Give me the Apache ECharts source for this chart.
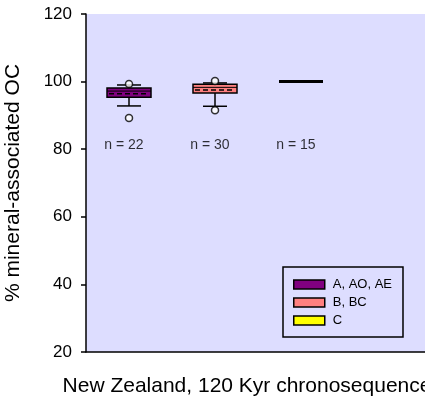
<!DOCTYPE html>
<html>
<head>
<meta charset="utf-8">
<script src="https://cdn.jsdelivr.net/npm/echarts@6/dist/echarts.min.js"></script>
<style>
html,body{margin:0;padding:0;background:#fff;}
#chart{width:425px;height:412px;}
</style>
</head>
<body>
<div id="chart"></div>
<script>
// ---- data ----
const categories = ['A, AO, AE', 'B, BC', 'C'];
const whiskerLow = [92.8, 92.7, 100];
const q1 = [95.4, 96.6, 100];
const median = [97.2, 98.3, 100];
const mean = [96.4, 97.5, 100];
const q3 = [98.1, 99.2, 100];
const whiskerHigh = [99.0, 99.6, 100];
const outlierCat = [0, 0, 1, 1];
const outlierVal = [99.3, 89.2, 100.2, 91.5];
const counts = [22, 30, 15];
const yTicks = [20, 40, 60, 80, 100, 120];

const fillColors = ['#800080', '#FF8080', '#FFFF00'];
const FONT = 'Liberation Sans, Arial, sans-serif';
const N_LABEL_Y = 81.3;

const chart = echarts.init(document.getElementById('chart'), null, {renderer: 'canvas'});

function boxRender(idx) {
  return function (params, api) {
    const c = api.value(0);
    const bw = 44, cw = 24;
    const pLow = api.coord([c, whiskerLow[idx]]);
    const pQ1 = api.coord([c, q1[idx]]);
    const pMed = api.coord([c, median[idx]]);
    const pMean = api.coord([c, mean[idx]]);
    const pQ3 = api.coord([c, q3[idx]]);
    const pHigh = api.coord([c, whiskerHigh[idx]]);
    const x = pQ1[0];
    const ls = {stroke: '#000', lineWidth: 1.5};
    const children = [];
    if (q3[idx] === q1[idx]) {
      children.push({type: 'line', shape: {x1: x - bw / 2, y1: pQ1[1], x2: x + bw / 2, y2: pQ1[1]}, style: {stroke: '#000', lineWidth: 3}});
      return {type: 'group', children: children};
    }
    children.push({type: 'line', shape: {x1: x, y1: pLow[1], x2: x, y2: pQ1[1]}, style: ls});
    children.push({type: 'line', shape: {x1: x, y1: pHigh[1], x2: x, y2: pQ3[1]}, style: ls});
    children.push({type: 'line', shape: {x1: x - cw / 2, y1: pLow[1], x2: x + cw / 2, y2: pLow[1]}, style: ls});
    children.push({type: 'line', shape: {x1: x - cw / 2, y1: pHigh[1], x2: x + cw / 2, y2: pHigh[1]}, style: ls});
    children.push({type: 'rect', shape: {x: x - bw / 2, y: pQ3[1], width: bw, height: pQ1[1] - pQ3[1]},
      style: {fill: fillColors[idx], stroke: '#000', lineWidth: 1.5}});
    children.push({type: 'line', shape: {x1: x - bw / 2, y1: pMed[1], x2: x + bw / 2, y2: pMed[1]}, style: {stroke: '#000', lineWidth: 1}});
    children.push({type: 'line', shape: {x1: x - bw / 2 + 2, y1: pMean[1], x2: x + bw / 2 - 2, y2: pMean[1]}, style: {stroke: '#000', lineWidth: 1.5, lineDash: [5, 3]}});
    return {type: 'group', children: children};
  };
}

const series = categories.map(function (name, i) {
  return {
    name: name,
    type: 'custom',
    itemStyle: {color: fillColors[i], borderColor: '#000', borderWidth: 1.5},
    renderItem: boxRender(i),
    data: [[i, median[i]]],
    z: 2
  };
});

series.push({
  type: 'scatter',
  symbol: 'circle',
  symbolSize: 7,
  itemStyle: {color: '#fff', borderColor: '#000', borderWidth: 1.5},
  data: outlierCat.map(function (c, i) { return [c, outlierVal[i]]; }),
  z: 5
});

series.push({
  type: 'scatter',
  symbolSize: 0,
  silent: true,
  data: counts.map(function (n, i) { return [i, N_LABEL_Y, n]; }),
  label: {
    show: true, position: 'inside', offset: [-5, 0],
    formatter: function (p) { return 'n = ' + p.value[2]; },
    color: '#000', fontFamily: FONT, fontSize: 14
  }
});

chart.setOption({
  animation: false,
  backgroundColor: '#fff',
  grid: {left: 86, top: 14, bottom: 60, right: -5, outerBoundsMode: 'none', containLabel: false,
    show: true, backgroundColor: '#DDDDFF', borderWidth: 0},
  xAxis: {
    type: 'category',
    data: categories.concat(['']),
    boundaryGap: true,
    axisLine: {lineStyle: {color: '#000', width: 1.5}},
    axisTick: {show: false},
    axisLabel: {show: false},
    name: 'New Zealand, 120 Kyr chronosequence',
    nameLocation: 'middle',
    nameGap: 24,
    nameTextStyle: {color: '#000', fontFamily: FONT, fontSize: 21, padding: [0, 22, 0, 0]}
  },
  yAxis: {
    type: 'value',
    min: yTicks[0],
    max: yTicks[yTicks.length - 1],
    interval: 20,
    splitLine: {show: false},
    axisLine: {show: true, lineStyle: {color: '#000', width: 1.5}},
    axisTick: {show: true, length: 5, lineStyle: {color: '#000', width: 1.5}},
    axisLabel: {color: '#000', fontFamily: FONT, fontSize: 17, margin: 14},
    name: '% mineral-associated OC',
    nameLocation: 'middle',
    nameGap: 62,
    nameTextStyle: {color: '#000', fontFamily: FONT, fontSize: 21}
  },
  legend: {
    data: categories,
    orient: 'vertical',
    left: 283,
    top: 267,
    padding: [11, 11, 10, 10],
    itemGap: 5,
    itemWidth: 31,
    itemHeight: 9,
    icon: 'rect',
    borderColor: '#000',
    borderWidth: 1.5,
    backgroundColor: '#DDDDFF',
    itemStyle: {borderColor: '#000', borderWidth: 1.5},
    textStyle: {color: '#000', fontFamily: FONT, fontSize: 13, padding: [0, 0, 0, 3]}
  },
  series: series
});
</script>
</body>
</html>
